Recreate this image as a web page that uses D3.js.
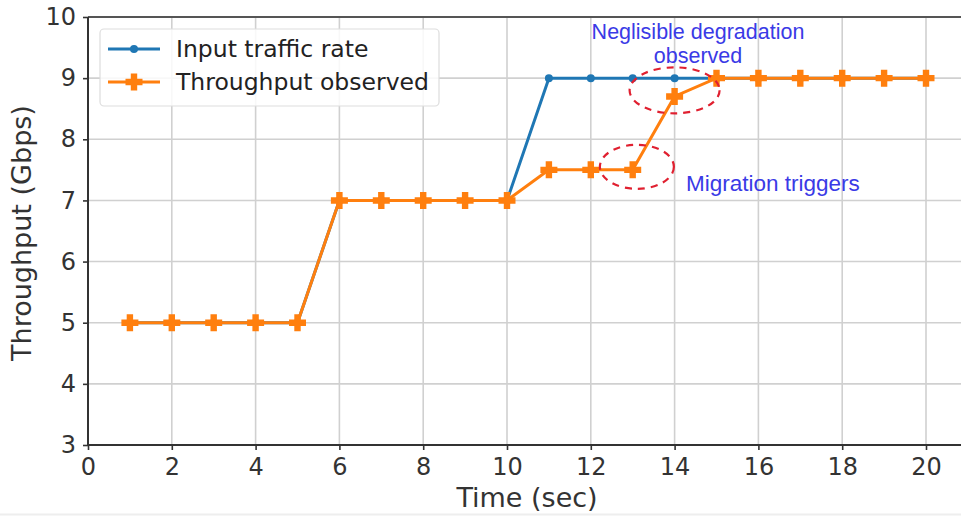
<!DOCTYPE html>
<html>
<head>
<meta charset="utf-8">
<script src="https://cdn.jsdelivr.net/npm/d3@7"></script>
<style>
  body { margin: 0; background: #fff; }
  svg { display: block; }
</style>
</head>
<body>
<script>
// data
const times = [1,2,3,4,5,6,7,8,9,10,11,12,13,14,15,16,17,18,19,20];
const inputRate = [5,5,5,5,5,7,7,7,7,7,9,9,9,9,9,9,9,9,9,9];
const throughput = [5,5,5,5,5,7,7,7,7,7,7.5,7.5,7.5,8.7,9,9,9,9,9,9];
const xTicks = [0,2,4,6,8,10,12,14,16,18,20];
const yTicks = [3,4,5,6,7,8,9,10];
const seriesNames = ["Input traffic rate", "Throughput observed"];

const W = 961, H = 516;
const plotLeft = 88, plotTop = 17, plotBottom = 445;

const svg = d3.select("body").append("svg")
  .attr("width", W).attr("height", H);

const x = d3.scaleLinear().domain([0, 20.95]).range([plotLeft, plotLeft + 20.95 * 41.9]);
const y = d3.scaleLinear().domain([3, 10]).range([plotBottom, plotTop]);

svg.append("defs").append("clipPath").attr("id", "clip")
  .append("rect").attr("x", plotLeft).attr("y", plotTop - 10)
  .attr("width", W - plotLeft).attr("height", plotBottom - plotTop + 20);

// grid
const grid = svg.append("g");
grid.selectAll(".gx").data(xTicks.slice(1)).enter().append("line")
  .attr("x1", d => x(d)).attr("x2", d => x(d))
  .attr("y1", plotTop).attr("y2", plotBottom)
  .attr("stroke", "#d0d0d0").attr("stroke-width", 1.6);
grid.selectAll(".gy").data(yTicks.slice(1, -1)).enter().append("line")
  .attr("x1", plotLeft).attr("x2", W)
  .attr("y1", d => y(d)).attr("y2", d => y(d))
  .attr("stroke", "#d0d0d0").attr("stroke-width", 1.6);

// axes
const xAxis = svg.append("g").attr("transform", `translate(0,${plotBottom})`)
  .call(d3.axisBottom(x).tickValues(xTicks).tickSize(5).tickPadding(8).tickFormat(d3.format("d")));
const yAxis = svg.append("g").attr("transform", `translate(${plotLeft},0)`)
  .call(d3.axisLeft(y).tickValues(yTicks).tickSize(5).tickPadding(7).tickFormat(d3.format("d")));
[xAxis, yAxis].forEach(a => {
  a.select(".domain").remove();
  a.selectAll(".tick line").attr("stroke", "#333").attr("stroke-width", 1.6);
  a.selectAll(".tick text").attr("fill", "#333")
    .style("font-family", "DejaVu Sans").style("font-size", "24px");
});
// spines
svg.append("line").attr("x1", plotLeft).attr("x2", W).attr("y1", plotBottom).attr("y2", plotBottom)
  .attr("stroke", "#333").attr("stroke-width", 2);
svg.append("line").attr("x1", plotLeft).attr("x2", W).attr("y1", plotTop).attr("y2", plotTop)
  .attr("stroke", "#555").attr("stroke-width", 2);
svg.append("line").attr("x1", plotLeft).attr("x2", plotLeft).attr("y1", plotTop).attr("y2", plotBottom)
  .attr("stroke", "#333").attr("stroke-width", 2);

// axis labels
svg.append("text").attr("x", 527).attr("y", 507).attr("text-anchor", "middle")
  .attr("fill", "#333").style("font-family", "DejaVu Sans").style("font-size", "27px")
  .text("Time (sec)");
svg.append("text").attr("transform", "translate(31,233) rotate(-90)").attr("text-anchor", "middle")
  .attr("fill", "#333").style("font-family", "DejaVu Sans").style("font-size", "27px")
  .text("Throughput (Gbps)");

const plot = svg.append("g").attr("clip-path", "url(#clip)");
const line = d3.line().x(d => x(d[0])).y(d => y(d[1]));

const blue = "#1f77b4", orange = "#ff7f0e";
const plusPath = "M-3.2,-8.5H3.2V-3.2H8.5V3.2H3.2V8.5H-3.2V3.2H-8.5V-3.2H-3.2Z";

// input rate
plot.append("path").datum(times.map((t, i) => [t, inputRate[i]]))
  .attr("d", line).attr("fill", "none").attr("stroke", blue).attr("stroke-width", 3);
plot.selectAll(".bdot").data(times.map((t, i) => [t, inputRate[i]])).enter().append("circle")
  .attr("cx", d => x(d[0])).attr("cy", d => y(d[1])).attr("r", 4).attr("fill", blue);

// throughput
plot.append("path").datum(times.map((t, i) => [t, throughput[i]]))
  .attr("d", line).attr("fill", "none").attr("stroke", orange).attr("stroke-width", 3);
plot.selectAll(".omark").data(times.map((t, i) => [t, throughput[i]])).enter().append("path")
  .attr("d", plusPath)
  .attr("transform", d => `translate(${x(d[0])},${y(d[1])})`)
  .attr("fill", orange);

// legend
const lg = svg.append("g");
lg.append("rect").attr("x", 100).attr("y", 29).attr("width", 339).attr("height", 77)
  .attr("rx", 4).attr("fill", "#fff").attr("fill-opacity", 0.85)
  .attr("stroke", "#ddd").attr("stroke-width", 1.2);
[blue, orange].forEach((c, i) => {
  const ly = 49 + i * 33;
  lg.append("line").attr("x1", 108).attr("x2", 160).attr("y1", ly).attr("y2", ly)
    .attr("stroke", c).attr("stroke-width", 3);
  if (i === 0) {
    lg.append("circle").attr("cx", 134).attr("cy", ly).attr("r", 4).attr("fill", c);
  } else {
    lg.append("path").attr("d", plusPath).attr("transform", `translate(134,${ly})`).attr("fill", c);
  }
  lg.append("text").attr("x", 176).attr("y", ly + 8).attr("fill", "#222")
    .style("font-family", "DejaVu Sans").style("font-size", "23.5px")
    .text(seriesNames[i]);
});

// annotations
const annColor = "#3a3ae6";
const ann = svg.append("g").style("font-family", "Liberation Sans, Arial")
  .attr("fill", annColor);
ann.append("text").attr("x", 698).attr("y", 39).attr("text-anchor", "middle")
  .style("font-size", "21.5px").text("Neglisible degradation");
ann.append("text").attr("x", 698).attr("y", 63).attr("text-anchor", "middle")
  .style("font-size", "21.5px").text("observed");
ann.append("text").attr("x", 686).attr("y", 191)
  .style("font-size", "22.5px").text("Migration triggers");

svg.append("ellipse").attr("cx", x(14)).attr("cy", y(8.8)).attr("rx", 45).attr("ry", 23)
  .attr("fill", "none").attr("stroke", "#e02030").attr("stroke-width", 2.2)
  .attr("stroke-dasharray", "7,6");
svg.append("ellipse").attr("cx", x(13.1)).attr("cy", y(7.55)).attr("rx", 37).attr("ry", 22)
  .attr("fill", "none").attr("stroke", "#e02030").attr("stroke-width", 2.2)
  .attr("stroke-dasharray", "7,6");

// faint bottom edge of the image
svg.append("line").attr("x1", 0).attr("x2", W).attr("y1", 514.5).attr("y2", 514.5)
  .attr("stroke", "#eee").attr("stroke-width", 2);
</script>
</body>
</html>
